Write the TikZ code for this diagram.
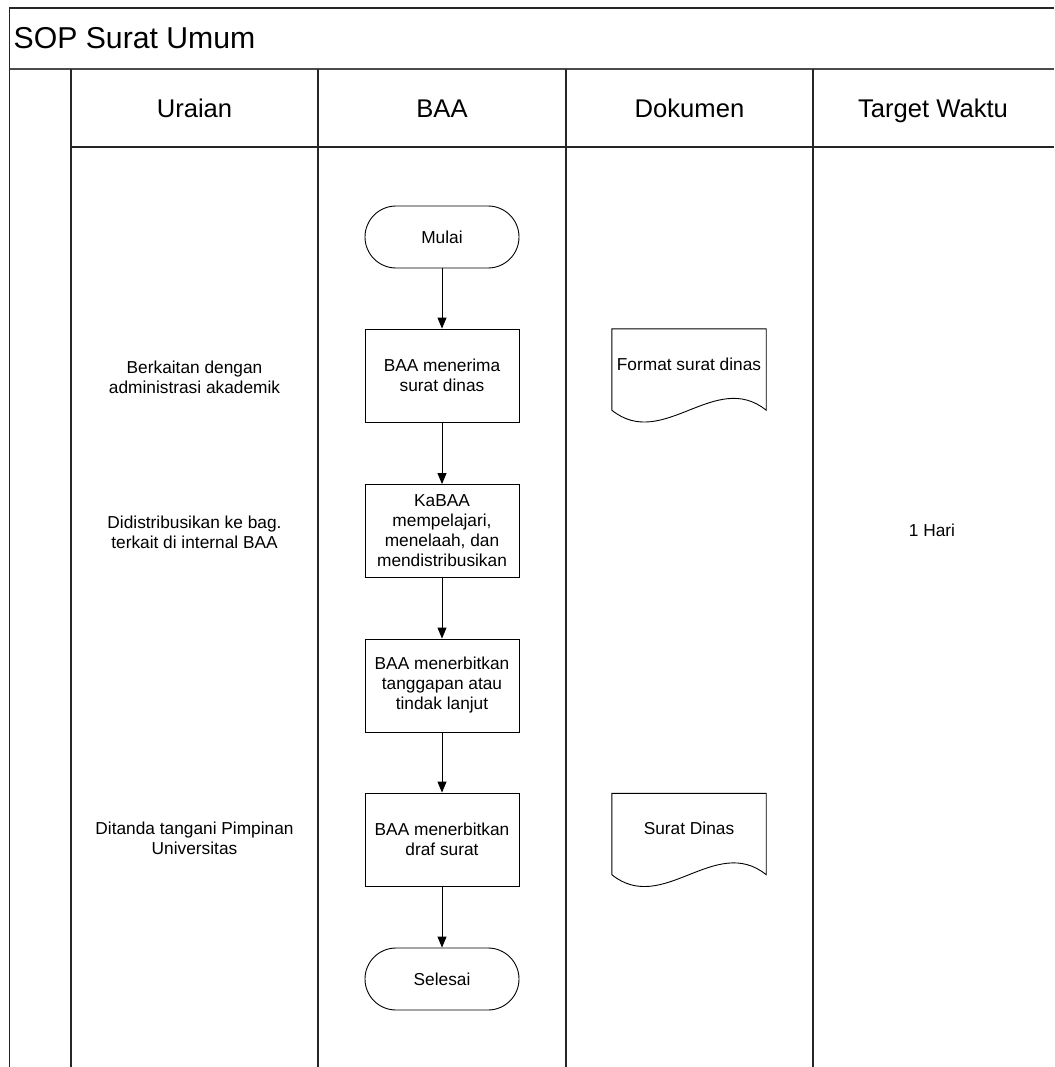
\documentclass[tikz,border=0pt]{standalone}
\usepackage{fontspec}
\setmainfont{Liberation Sans}
\usetikzlibrary{arrows.meta,calc}
\begin{document}
\begin{tikzpicture}[x=1pt,y=-1pt,
  frame/.style={line width=1.4pt, draw=black!85},
  sep/.style={line width=2.4pt, draw=black!70},
  txt/.style={font=\fontsize{17.3}{20}\selectfont, align=center},
  hdr/.style={font=\fontsize{25.6}{30}\selectfont, anchor=base, inner sep=0pt},
  terminal/.style={draw, line width=0.9pt, rounded corners=31pt,
    minimum width=154pt, minimum height=62pt, txt},
  process/.style={draw, line width=0.9pt, minimum width=154pt,
    minimum height=93pt, inner sep=2pt, txt},
  docbox/.style={minimum width=154pt, minimum height=81pt, txt,
    text height=12pt, text depth=11pt},
  docline/.style={draw, line width=0.9pt},
  flow/.style={line width=0.9pt, -{Triangle[length=11pt,width=9pt]}}
]
\useasboundingbox (0,0) rectangle (1054,1067);

% table frame and swimlanes
\draw[frame] (9.5,1067) -- (9.5,8) -- (1054,8);
\draw[sep] (9.5,69) -- (1054,69);
\foreach \lx in {71,318,566,813}
  \draw[frame] (\lx,69) -- (\lx,1067);
\draw[frame] (71,147) -- (1054,147);

% title and column headers
\node[anchor=base west, inner sep=0pt, font=\fontsize{30.2}{36}\selectfont]
  (title) at (13.5,49) {SOP Surat Umum};
\node[hdr] (hUraian) at (194.5,118) {Uraian};
\node[hdr] (hBAA)    at (442,118)   {BAA};
\node[hdr] (hDok)    at (689.5,118) {Dokumen};
\node[hdr] (hTarget) at (933,118)   {Target Waktu};

% flow in the BAA lane
\node[terminal] (mulai)   at (442,237)   {Mulai};
\node[process]  (terima)  at (442,375.5) {BAA menerima\\surat dinas};
\node[process]  (telaah)  at (442,531)   {KaBAA\\mempelajari,\\menelaah, dan\\mendistribusikan};
\node[process]  (tanggap) at (442,685.5) {BAA menerbitkan\\tanggapan atau\\tindak lanjut};
\node[process]  (draf)    at (442,839.5) {BAA menerbitkan\\draf surat};
\node[terminal] (selesai) at (442,979)   {Selesai};

\draw[flow] (mulai)   -- (terima);
\draw[flow] (terima)  -- (telaah);
\draw[flow] (telaah)  -- (tanggap);
\draw[flow] (tanggap) -- (draf);
\draw[flow] (draf)    -- (selesai);

% documents
\node[docbox] (doc1) at (689,369.5) {Format surat dinas};
\node[docbox] (doc2) at (689,834)   {Surat Dinas};
\foreach \d in {doc1,doc2}
  \draw[docline] (\d.north west) -- (\d.north east) -- (\d.south east)
    .. controls ($(\d.south east)+(-51,-41)$) and ($(\d.south west)+(51,41)$)
    .. (\d.south west) -- cycle;

% descriptions
\node[txt] (u1) at (194.5,377) {Berkaitan dengan\\administrasi akademik};
\node[txt] (u2) at (194.5,532) {Didistribusikan ke bag.\\terkait di internal BAA};
\node[txt] (u3) at (194.5,838) {Ditanda tangani Pimpinan\\Universitas};

% time target
\node[txt] (waktu) at (932,530) {1 Hari};
\end{tikzpicture}
\end{document}
